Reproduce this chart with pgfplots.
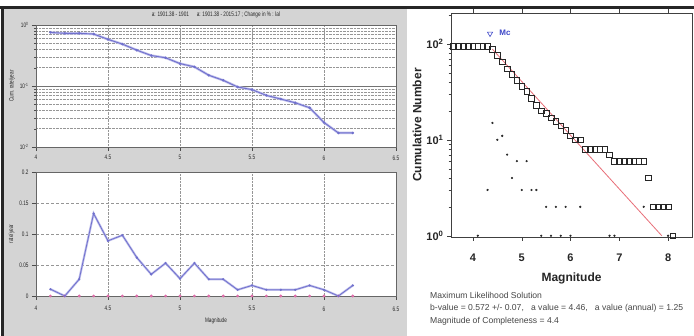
\documentclass[border=0pt]{standalone}
\usepackage{pgfplots}
\pgfplotsset{compat=1.18}
\usepackage{fontspec}
\setmainfont{Liberation Sans}
\newfontfamily\narrowfont[FakeStretch=0.72]{Liberation Sans}
\definecolor{panelgrey}{RGB}{212,212,212}
\definecolor{lineblue}{RGB}{112,112,205}
\definecolor{halo}{RGB}{190,190,235}
\definecolor{zeropink}{RGB}{222,110,170}
\definecolor{fitred}{RGB}{232,110,120}
\definecolor{gridgrey}{RGB}{150,150,150}
\definecolor{mcblue}{RGB}{60,70,200}
\definecolor{txtgrey}{RGB}{70,70,70}
\pgfplotsset{
  leftstyle/.style={
    scale only axis, anchor=south west, width=360pt,
    xmin=4, xmax=6.5, xtick={4,4.5,5,5.5,6,6.5},
    xticklabels={4,4.5,5,5.5,6,6.5},
    axis background/.style={fill=white},
    axis line style={black!60}, tick style={black!70},
    tick align=outside, xtick pos=left, ytick pos=left,
    major tick length=4pt, minor tick length=2pt,
    ticklabel style={font=\narrowfont\fontsize{6.5}{6.5}\selectfont, text=black!85},
    label style={font=\narrowfont\fontsize{6.5}{6.5}\selectfont, text=black!85},
    xmajorgrids, major x grid style={gridgrey, densely dotted},
  }
}
\begin{document}
\begin{tikzpicture}[x=1pt,y=1pt]
\fill[white] (0,0) rectangle (694,336);
\fill[panelgrey] (4,0) rectangle (407,328);
\fill[black!85] (0,327) rectangle (694,330);
\fill[black!85] (1,0) rectangle (4,330);
\node[font=\narrowfont\fontsize{6.5}{6.5}\selectfont, text=black!85] at (216,321) {a: 1901.38 - 1901 \quad a: 1901.38 - 2015.17 ; Change in \% : lal};

% ---------- left top: cumulative rate ----------
\begin{axis}[leftstyle,
  at={(36pt,189pt)}, height=122pt,
  ymode=log, ymin=0.01, ymax=1,
  ytick={0.01,0.1,1},
  yticklabels={10\textsuperscript{-2},10\textsuperscript{-1},10\textsuperscript{0}},
  minor ytick={0.02,0.03,0.04,0.05,0.06,0.07,0.08,0.09,0.2,0.3,0.4,0.5,0.6,0.7,0.8,0.9},
  ymajorgrids, yminorgrids,
  major y grid style={black!55, thin},
  minor y grid style={gridgrey, densely dotted},
  ylabel={Cum. rate/year}, ylabel style={yshift=-2pt},
  xticklabel style={yshift=-1pt},
]
\addplot[halo, line width=2.4pt] coordinates {
(4.1,0.756)(4.2,0.73)(4.3,0.73)(4.4,0.711)(4.5,0.581)(4.6,0.486)(4.7,0.387)
(4.8,0.316)(4.9,0.290)(5.0,0.233)(5.1,0.206)(5.2,0.150)(5.3,0.124)(5.4,0.0964)
(5.5,0.0871)(5.6,0.0701)(5.7,0.0611)(5.8,0.0531)(5.9,0.0440)(6.0,0.0252)
(6.1,0.0170)(6.2,0.0170)};
\addplot[lineblue, line width=0.9pt, mark=*, mark size=0.8pt] coordinates {
(4.1,0.756)(4.2,0.73)(4.3,0.73)(4.4,0.711)(4.5,0.581)(4.6,0.486)(4.7,0.387)
(4.8,0.316)(4.9,0.290)(5.0,0.233)(5.1,0.206)(5.2,0.150)(5.3,0.124)(5.4,0.0964)
(5.5,0.0871)(5.6,0.0701)(5.7,0.0611)(5.8,0.0531)(5.9,0.0440)(6.0,0.0252)
(6.1,0.0170)(6.2,0.0170)};
\end{axis}

% ---------- left bottom: rate ----------
\begin{axis}[leftstyle,
  at={(36pt,40pt)}, height=124pt,
  ymin=0, ymax=0.2, ytick={0,0.05,0.1,0.15,0.2},
  yticklabels={0,0.05,0.1,0.15,0.2},
  ymajorgrids, major y grid style={gridgrey, densely dashed},
  ylabel={rate/year}, ylabel style={yshift=-2pt},
  xlabel={Magnitude},
  xticklabel style={yshift=-3pt},
]
\draw[black!60] (axis cs:4,0) -- (axis cs:6.5,0);
\addplot[zeropink, line width=0.8pt, mark=*, mark size=1pt] coordinates {
(4.1,0)(4.2,0)(4.3,0)(4.4,0)(4.5,0)(4.6,0)(4.7,0)(4.8,0)(4.9,0)(5.0,0)(5.1,0)
(5.2,0)(5.3,0)(5.4,0)(5.5,0)(5.6,0)(5.7,0)(5.8,0)(5.9,0)(6.0,0)(6.1,0)(6.2,0)};
\addplot[halo, line width=2.2pt] coordinates {
(4.1,0.011)(4.2,0)(4.3,0.027)(4.4,0.133)(4.5,0.089)(4.6,0.098)(4.7,0.062)
(4.8,0.035)(4.9,0.053)(5.0,0.028)(5.1,0.053)(5.2,0.027)(5.3,0.027)(5.4,0.010)
(5.5,0.017)(5.6,0.010)(5.7,0.010)(5.8,0.010)(5.9,0.017)(6.0,0.010)(6.1,0)(6.2,0.017)};
\addplot[lineblue, line width=0.8pt, mark=*, mark size=0.7pt] coordinates {
(4.1,0.011)(4.2,0)(4.3,0.027)(4.4,0.133)(4.5,0.089)(4.6,0.098)(4.7,0.062)
(4.8,0.035)(4.9,0.053)(5.0,0.028)(5.1,0.053)(5.2,0.027)(5.3,0.027)(5.4,0.010)
(5.5,0.017)(5.6,0.010)(5.7,0.010)(5.8,0.010)(5.9,0.017)(6.0,0.010)(6.1,0)(6.2,0.017)};
\end{axis}

% ---------- right: frequency-magnitude ----------
\begin{axis}[
  at={(451pt,99pt)}, anchor=south west, scale only axis,
  width=241pt, height=224pt,
  xmin=3.55, xmax=8.49, ymode=log, ymin=0.97, ymax=210,
  xtick={4,5,6,7,8},
  xticklabels={4,5,6,7,8},
  ytick={1,10,100},
  yticklabels={10\textsuperscript{0},10\textsuperscript{1},10\textsuperscript{2}},
  minor ytick={2,3,4,5,6,7,8,9,20,30,40,50,60,70,80,90,200},
  axis line style={black!75}, tick style={black!75},
  tick align=outside, xtick pos=both, ytick pos=left,
  major tick length=4pt, minor tick length=2.5pt,
  ticklabel style={font=\fontsize{11}{12}\selectfont\bfseries, text=black!85},
  xticklabel style={yshift=-9pt},
  xlabel={Magnitude}, ylabel={Cumulative Number},
  label style={font=\fontsize{12}{13}\selectfont\bfseries, text=black!85},
  xlabel style={yshift=-5pt}, ylabel style={yshift=-2pt},
  clip=false,
]
\addplot[fitred, line width=0.8pt] coordinates {(4.4,88)(7.87,1)};
\addplot[only marks, mark=square, mark size=2.8pt, black!85, mark options={line width=0.6pt}] coordinates {
(3.6,95)(3.7,95)(3.8,95)(3.9,95)(4.0,95)(4.1,95)(4.2,94)(4.3,94)(4.4,88)(4.5,76)
(4.6,65)(4.7,55)(4.8,48)(4.9,42)(5.0,36)(5.1,32)(5.2,27)(5.3,23)(5.4,20)(5.5,19)
(5.6,17)(5.7,15.5)(5.8,14)(5.9,12.5)(6.0,11)(6.1,10)(6.2,10)(6.3,8)(6.4,8)(6.5,8)
(6.6,8)(6.7,8)(6.8,7)(6.9,6)(7.0,6)(7.1,6)(7.2,6)(7.3,6)(7.4,6)(7.5,6)(7.6,4)
(7.7,2)(7.8,2)(7.9,2)(8.0,2)(8.1,1)};
\addplot[only marks, mark=*, mark size=0.9pt, black!85] coordinates {
(4.1,1)(4.3,3)(4.4,15)(4.5,10)(4.6,11)(4.7,7)(4.8,4)(4.9,6)(5.0,3)(5.1,6)(5.2,3)
(5.3,3)(5.4,1)(5.5,2)(5.6,1)(5.7,2)(5.8,1)(5.9,2)(6.0,1)(6.2,2)(6.8,1)(6.9,1)
(7.5,2)(8.0,1)};
\addplot[only marks, mark=triangle, mark size=3pt, mcblue, mark options={rotate=180, line width=0.6pt}] coordinates {(4.35,128)};
\node[anchor=west, text=mcblue, font=\fontsize{8}{9}\selectfont\bfseries] at (axis cs:4.47,130) {Mc};
\end{axis}

\node[anchor=north west, align=left, text=txtgrey, font=\fontsize{8.6}{12.5}\selectfont, inner sep=0pt] at (430,44) {Maximum Likelihood Solution\\
b-value = 0.572 +/- 0.07, \ \ a value = 4.46, \ \ a value (annual) = 1.25\\
Magnitude of Completeness = 4.4};

\pgfresetboundingbox
\path[use as bounding box] (0,0) rectangle (694,336);
\end{tikzpicture}
\end{document}
